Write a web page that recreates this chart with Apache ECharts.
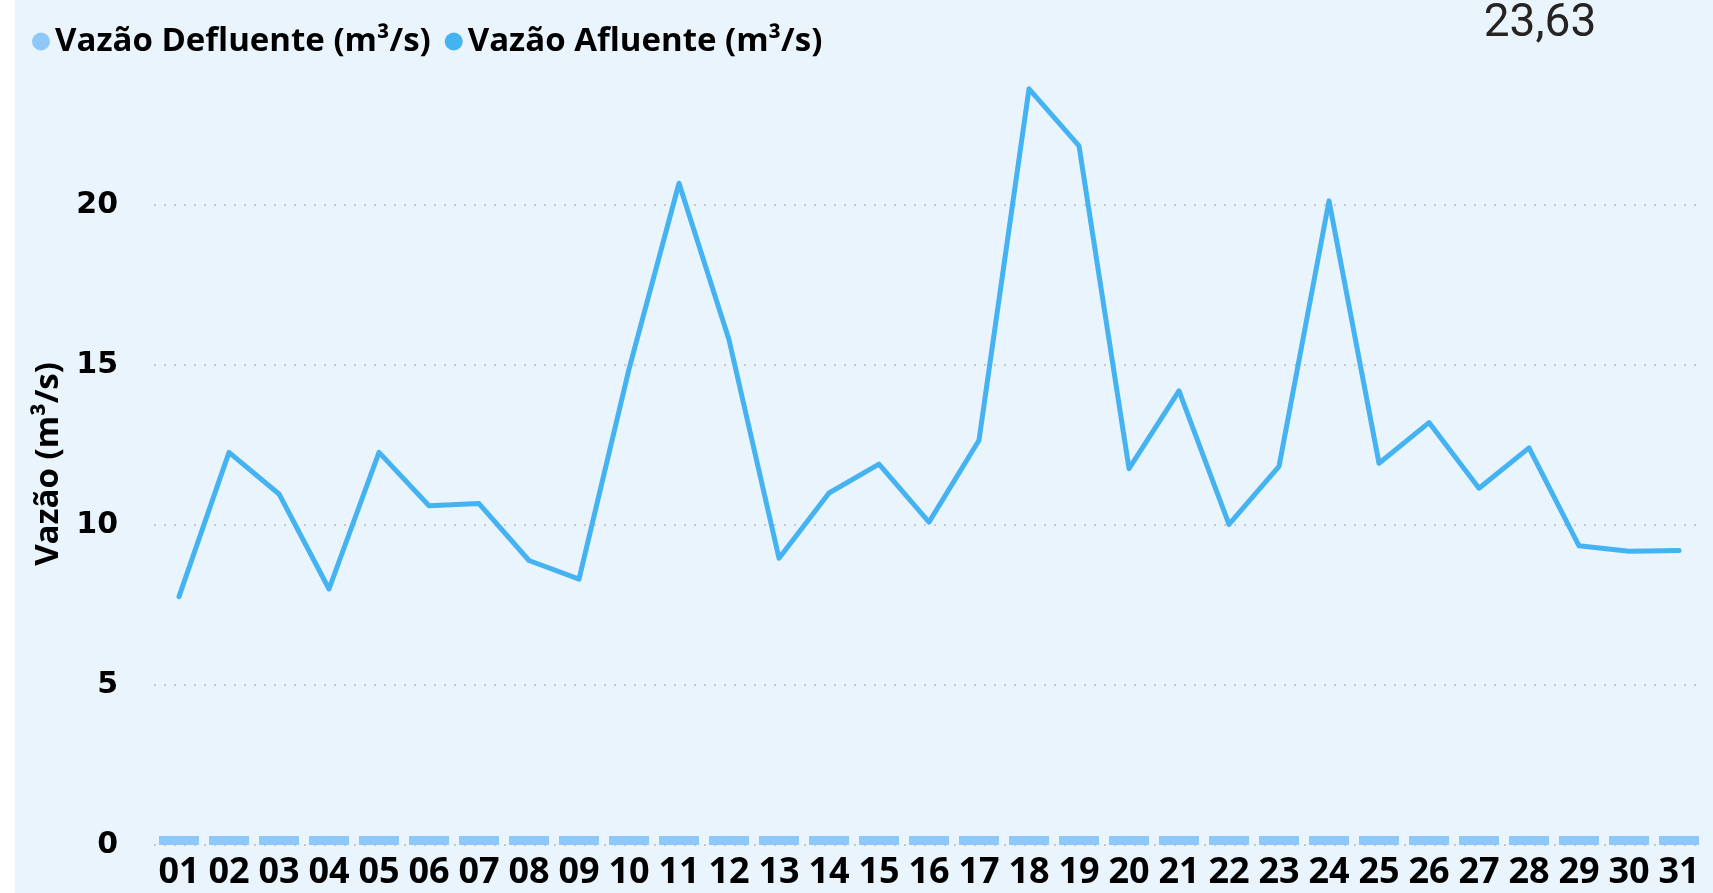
<!DOCTYPE html>
<html>
<head>
<meta charset="utf-8">
<script src="https://cdn.jsdelivr.net/npm/echarts@6/dist/echarts.min.js"></script>
<style>
  html, body { margin: 0; padding: 0; background: #fff; }
  #chart { position: absolute; left: 15px; top: 0; width: 1698px; height: 893px; background: #eaf4fc; }
</style>
</head>
<body>
<div id="chart"></div>
<script>
const days = ["01","02","03","04","05","06","07","08","09","10","11","12","13","14","15","16",
  "17","18","19","20","21","22","23","24","25","26","27","28","29","30","31"];

// Vazão Afluente (m³/s)
const afluente = [7.76, 12.27, 10.97, 8.0, 12.27, 10.6, 10.67, 8.89, 8.31, 14.87, 20.68, 15.79,
  8.96, 11.0, 11.9, 10.09, 12.65, 23.63, 21.85, 11.76, 14.19, 10.02, 11.83, 20.13, 11.93,
  13.2, 11.15, 12.41, 9.35, 9.18, 9.2];

// Vazão Defluente (m³/s)
const defluente = [0.28, 0.28, 0.28, 0.28, 0.28, 0.28, 0.28, 0.28, 0.28, 0.28, 0.28, 0.28,
  0.28, 0.28, 0.28, 0.28, 0.28, 0.28, 0.28, 0.28, 0.28, 0.28, 0.28, 0.28, 0.28, 0.28,
  0.28, 0.28, 0.28, 0.28, 0.28];

const maxLabel = "23,63";

const chart = echarts.init(document.getElementById("chart"));
chart.setOption({
  animation: false,
  backgroundColor: "#eaf4fc",
  legend: {
    left: 12,
    top: 20,
    icon: "circle",
    itemWidth: 18,
    itemHeight: 18,
    itemGap: 14,
    itemStyle: { borderWidth: 0 },
    textStyle: { fontFamily: "Open Sans", fontWeight: "bold", fontSize: 33, color: "#000" },
    data: ["Vazão Defluente (m³/s)", "Vazão Afluente (m³/s)"],
  },
  graphic: [
    {
      type: "text",
      x: 1525,
      y: 24,
      style: {
        text: maxLabel,
        font: "46px Roboto",
        fill: "#252423",
        align: "center",
        verticalAlign: "middle",
      },
    },
    {
      type: "text",
      x: 34,
      y: 464,
      rotation: Math.PI / 2,
      style: {
        text: "Vazão (m³/s)",
        font: "bold 33px 'Open Sans'",
        fill: "#000",
        align: "center",
        verticalAlign: "middle",
      },
    },
  ],
  grid: { left: 139, right: 9, top: 45, bottom: 48 },
  xAxis: {
    type: "category",
    data: days,
    axisLine: { show: false },
    axisTick: { show: false },
    axisLabel: {
      interval: 0,
      margin: 10,
      fontFamily: "Open Sans",
      fontWeight: "bold",
      fontSize: 36,
      color: "#000",
    },
  },
  yAxis: {
    type: "value",
    min: 0,
    max: 25,
    interval: 5,
    axisLine: { show: false },
    axisTick: { show: false },
    axisLabel: {
      showMaxLabel: false,
      margin: 36,
      fontFamily: "DejaVu Sans",
      fontWeight: "bold",
      fontSize: 30,
      color: "#000",
    },
    splitLine: {
      showMaxLine: false,
      lineStyle: { color: "#c8c8c8", type: [2, 8], width: 2 },
    },
  },
  series: [
    {
      name: "Vazão Defluente (m³/s)",
      type: "bar",
      data: defluente,
      barWidth: "80%",
      itemStyle: { color: "#8ec8f8" },
    },
    {
      name: "Vazão Afluente (m³/s)",
      type: "line",
      data: afluente,
      symbol: "none",
      lineStyle: { color: "#45b3f2", width: 5, join: "round", cap: "round" },
      itemStyle: { color: "#45b3f2" },
    },
  ],
});
</script>
</body>
</html>
